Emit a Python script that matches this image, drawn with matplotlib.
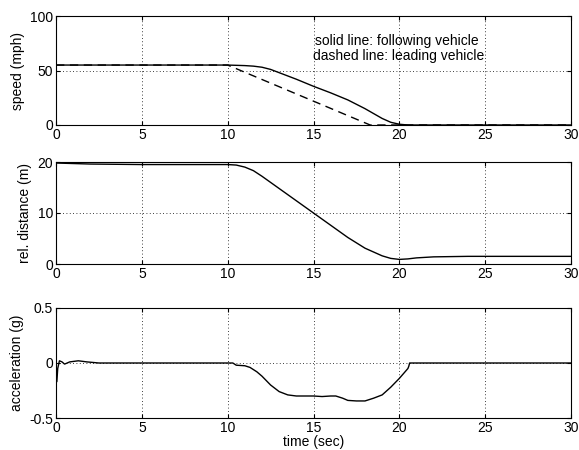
import matplotlib
matplotlib.use("Agg")
import matplotlib.pyplot as plt

# speed (mph)
t_follow = [0, 10, 11, 11.5, 12, 12.5, 13, 14, 15, 16, 17, 18, 18.5, 19, 19.5, 20, 20.5, 30]
v_follow = [55, 55, 54.5, 54, 53, 51, 48, 42, 35.5, 29.5, 23, 15, 10.5, 6, 2.5, 0.7, 0, 0]
t_lead = [0, 10, 18.3, 30]
v_lead = [55, 55, 0, 0]

# relative distance (m)
t_dist = [0, 2, 5, 10, 10.5, 11, 11.5, 12, 13, 14, 15, 16, 17, 18, 19, 19.5, 20, 20.5, 21, 22, 24, 30]
d_rel = [19.8, 19.6, 19.5, 19.5, 19.4, 19.0, 18.3, 17.2, 14.8, 12.4, 10.0, 7.6, 5.2, 3.1, 1.6, 1.1,
         0.9, 1.0, 1.2, 1.4, 1.5, 1.5]

# acceleration (g)
t_acc = [0, 0.05, 0.1, 0.2, 0.35, 0.5, 0.8, 1.3, 1.8, 2.5, 10, 10.3, 10.5, 11, 11.3, 11.7, 12, 12.5,
         13, 13.5, 14, 15, 15.5, 16, 16.3, 16.7, 17, 17.5, 18, 18.5, 19, 19.5, 20, 20.5, 20.55, 20.6, 30]
acc = [0, -0.17, -0.05, 0.02, 0.01, -0.01, 0.01, 0.02, 0.01, 0, 0, 0, -0.02, -0.025, -0.04, -0.08,
       -0.12, -0.2, -0.26, -0.29, -0.3, -0.3, -0.305, -0.3, -0.3, -0.32, -0.34, -0.345, -0.345, -0.32,
       -0.29, -0.22, -0.14, -0.05, -0.03, 0, 0]

plt.rcParams['font.family'] = ['Liberation Sans', 'DejaVu Sans']
plt.rcParams['font.size'] = 10

fig = plt.figure(figsize=(5.79, 4.5), dpi=100)
W, H = 579, 450
boxes = [(16, 125), (162, 264), (308, 418)]
axes = []
for top, bot in boxes:
    ax = fig.add_axes([56 / W, 1 - bot / H, (571 - 56) / W, (bot - top) / H])
    axes.append(ax)

def style(ax, yticks):
    ax.set_xlim(0, 30)
    ax.set_xticks([0, 5, 10, 15, 20, 25, 30])
    ax.set_ylim(yticks[0], yticks[-1])
    ax.set_yticks(yticks)
    ax.grid(True, linestyle=(0, (1, 3)), color='black', linewidth=0.6)
    ax.tick_params(direction='in', top=True, right=True, length=3, labelsize=10, pad=2)
    for s in ax.spines.values():
        s.set_linewidth(0.8)

ax1, ax2, ax3 = axes
ax1.plot(t_follow, v_follow, color='black', linewidth=1)
ax1.plot(t_lead, v_lead, color='black', linewidth=1, linestyle=(0, (6, 4)))
style(ax1, [0, 50, 100])
ax1.set_ylabel('speed (mph)')
ax1.text(15.1, 77, 'solid line: following vehicle', fontsize=10, va='center')
ax1.text(14.95, 63, 'dashed line: leading vehicle', fontsize=10, va='center')

ax2.plot(t_dist, d_rel, color='black', linewidth=1)
style(ax2, [0, 10, 20])
ax2.set_ylabel('rel. distance (m)')

ax3.plot(t_acc, acc, color='black', linewidth=1)
style(ax3, [-0.5, 0, 0.5])
ax3.set_yticklabels(['-0.5', '0', '0.5'])
ax3.set_ylabel('acceleration (g)')
ax3.set_xlabel('time (sec)', labelpad=0)

fig.savefig('out.png', dpi=100)
